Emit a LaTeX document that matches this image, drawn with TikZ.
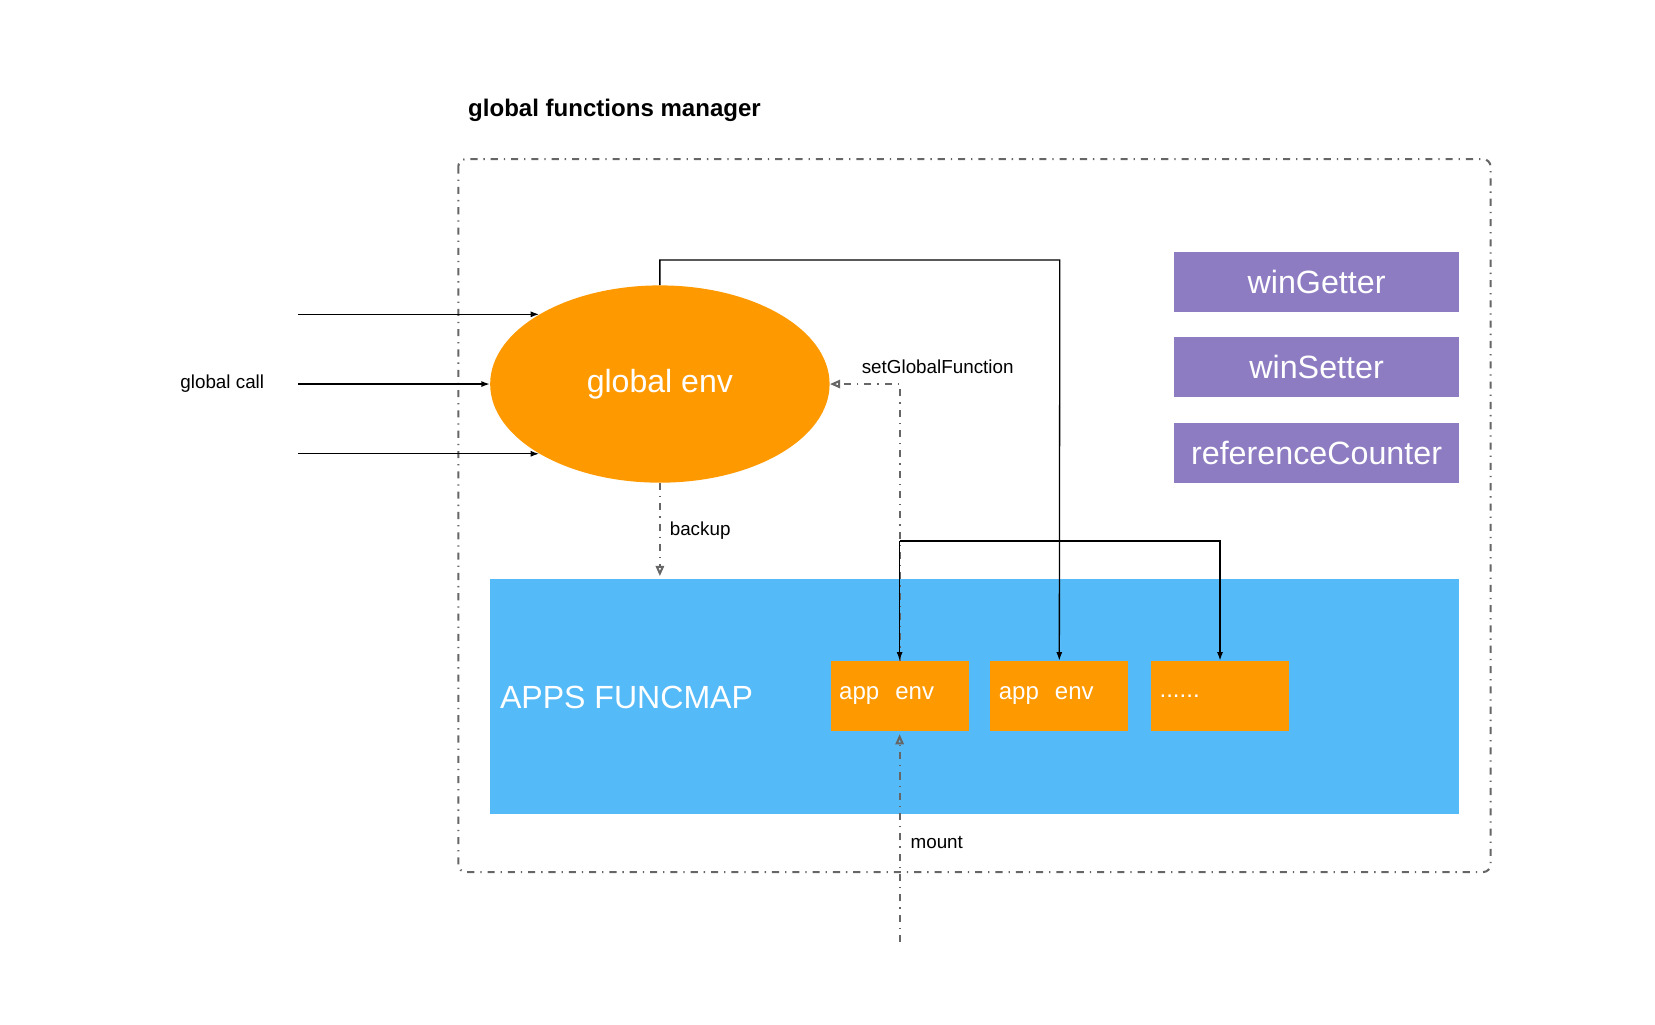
\documentclass[tikz,border=0pt]{standalone}
\usepackage{fontspec}
\setmainfont{Liberation Sans}
\usetikzlibrary{shapes.geometric,arrows.meta}
\definecolor{envOrange}{HTML}{FF9900}
\definecolor{mapBlue}{HTML}{55BAF8}
\definecolor{winPurple}{HTML}{8E7CC3}
\definecolor{lineGray}{HTML}{666666}

\begin{document}
\begin{tikzpicture}[x=0.02cm, y=-0.02cm,
        dashdot/.style={draw=lineGray, line width=1.1pt, dash pattern=on 3.8pt off 3.2pt on 0.7pt off 3.2pt},
        conn/.style={-{Latex[length=4.5pt,width=3.2pt]}, line width=0.7pt},
        opentip/.style={-{Triangle[open,length=5.5pt,width=4.5pt]}},
        appbox/.style={fill=envOrange, minimum width=2.6cm, minimum height=1.32cm, text width=2.28cm, inner xsep=0.16cm, align=left, text=white, font=\fontsize{12.9}{14}\selectfont},
        winbox/.style={fill=winPurple, minimum width=5.36cm, minimum height=1.12cm, inner sep=0pt, text=white, font=\fontsize{17.3}{20}\selectfont},
        small/.style={font=\fontsize{10.1}{12}\selectfont},
        lbl/.style={anchor=west, inner xsep=0pt}]
        \useasboundingbox (0,0) rectangle (1560,966);
        \node[lbl, font=\bfseries\fontsize{12.9}{15}\selectfont] (title) at (441,104) {global functions manager};
        \draw[dashdot, rounded corners=4pt] (432,150) rectangle (1405,822);
        \node[ellipse, fill=envOrange, minimum width=6.4cm, minimum height=3.72cm, inner sep=0pt, text=white, font=\fontsize{17.2}{20}\selectfont] (genv) at (622,362) {global env};
        \node[fill=mapBlue, minimum width=18.26cm, minimum height=4.42cm, inner sep=0pt] (funcmap) at (918.5,656.5) {};
        \node[lbl, text=white, font=\fontsize{17.2}{20}\selectfont] (maplabel) at (471,657) {APPS FUNCMAP};
        \node[appbox] (app1) at (848,656) {app\ \ env};
        \node[appbox] (app2) at (998.5,656) {app\ \ env};
        \node[appbox] (app3) at (1150,656) {......};
        \node[winbox] (getter) at (1241,266) {winGetter};
        \node[winbox] (setter) at (1241,346) {winSetter};
        \node[winbox] (refcnt) at (1241,427) {referenceCounter};
        % calls coming in
        \coordinate (callin) at (281,362);
        \node[small] (calltxt) at (209.5,362) {global call};
        \draw[conn] (callin |- genv.150) -- (genv.150);
        \draw[conn] (callin) -- (genv.west);
        \draw[conn] (callin |- genv.210) -- (genv.210);
        % gray links
        \draw[dashdot, opentip] (app1.north) |- (genv.east);
        \node[small, lbl] (setlbl) at (812,346) {setGlobalFunction};
        \draw[dashdot, opentip, shorten >=1.5pt] (genv.south) -- (genv.south |- funcmap.north);
        \node[small, lbl] (backlbl) at (631,500) {backup};
        \coordinate (mountin) at (848,888);
        \draw[dashdot, opentip, shorten >=1.5pt] (mountin) -- (app1.south);
        \node[small, lbl] (mountlbl) at (858,794) {mount};
        % global env to the app envs
        \coordinate (topbend) at (999,245);
        \draw[conn] (genv.north) |- (topbend) -- (app2.north);
        \coordinate (bar) at (848,510);
        \draw[conn] (bar) -- (app1.north);
        \draw[conn] (bar) -| (app3.north);
    \end{tikzpicture}
\end{document}
